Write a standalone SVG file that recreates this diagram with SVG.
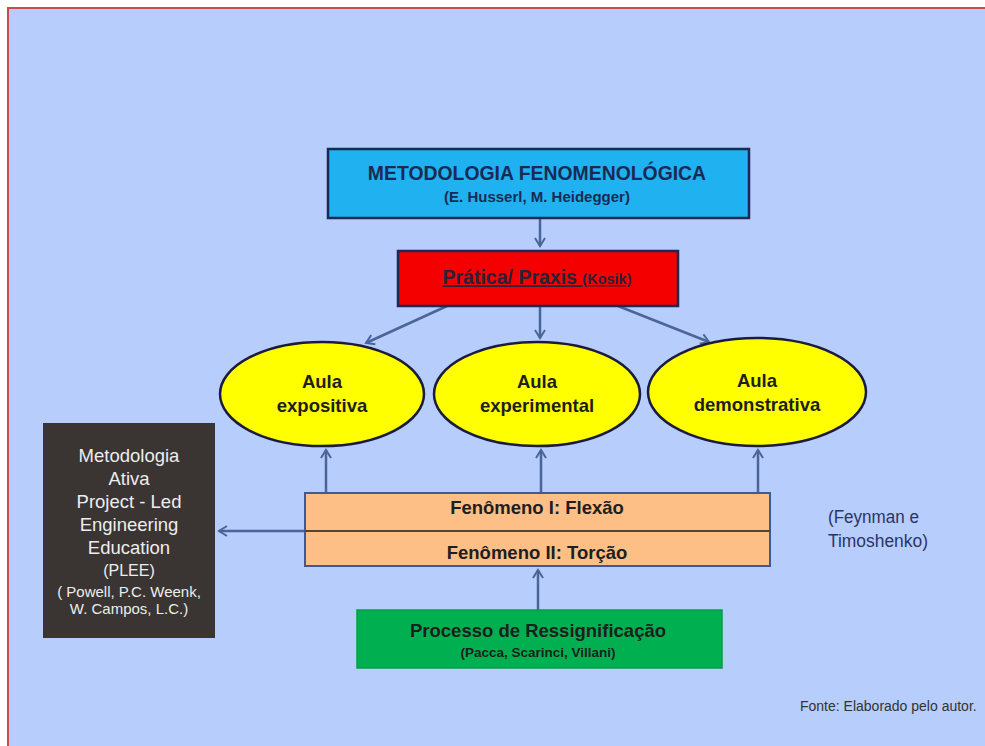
<svg xmlns="http://www.w3.org/2000/svg" width="985" height="746" viewBox="0 0 985 746">
<defs>
<style>
.b{font-family:"Liberation Sans",Arial,sans-serif;font-weight:bold;text-anchor:middle}
.r{font-family:"Liberation Sans",Arial,sans-serif;text-anchor:middle;fill:#EDEDED}
.con{stroke:#4A6699;stroke-width:2.5;fill:none;marker-end:url(#ah)}
</style>
<marker id="ah" viewBox="0 0 12 12" refX="10" refY="6" markerWidth="12" markerHeight="12" markerUnits="userSpaceOnUse" orient="auto">
<path d="M2,1 L10,6 L2,11" fill="none" stroke="#4A6699" stroke-width="2"/>
</marker>
</defs>
<rect x="0" y="0" width="985" height="746" fill="#FFFFFF"/>
<rect x="8" y="8" width="990" height="750" fill="#B7CDFC" stroke="#C0504D" stroke-width="2"/>

<g id="connectors">
<line class="con" x1="540" y1="219" x2="540" y2="246"/>
<line class="con" x1="447" y1="306" x2="366" y2="343"/>
<line class="con" x1="540" y1="306" x2="540" y2="338"/>
<line class="con" x1="618" y1="306" x2="709" y2="342"/>
<line class="con" x1="326" y1="493" x2="326" y2="450"/>
<line class="con" x1="541" y1="493" x2="541" y2="450"/>
<line class="con" x1="758" y1="493" x2="758" y2="450"/>
<line class="con" x1="305" y1="531" x2="219" y2="531"/>
<line class="con" x1="538" y1="610" x2="538" y2="570"/>
</g>

<g id="metodologia">
<rect x="328" y="149" width="421" height="69" fill="#1FB1F0" stroke="#1B2A55" stroke-width="2.5"/>
<text class="b" x="537" y="180" font-size="19.4" fill="#1B2A55">METODOLOGIA FENOMENOLÓGICA</text>
<text class="b" x="537" y="202" font-size="15" fill="#1B2A55">(E. Husserl, M. Heidegger)</text>
</g>

<g id="pratica">
<rect x="398" y="251" width="280" height="55" fill="#F40000" stroke="#1B2A55" stroke-width="2.5"/>
<text class="b" x="537" y="284" fill="#2A2238" text-decoration="underline"><tspan font-size="19.5">Prática/ Praxis </tspan><tspan font-size="14.5">(Kosik)</tspan></text>
</g>

<g id="aula-expositiva">
<ellipse cx="322" cy="394" rx="102" ry="52" fill="#FFFF00" stroke="#1B1B40" stroke-width="2.5"/>
<text class="b" x="322" y="388" font-size="18.5" fill="#1E1E1E">Aula</text>
<text class="b" x="322" y="412" font-size="18.5" fill="#1E1E1E">expositiva</text>
</g>

<g id="aula-experimental">
<ellipse cx="537" cy="394" rx="103" ry="52" fill="#FFFF00" stroke="#1B1B40" stroke-width="2.5"/>
<text class="b" x="537" y="388" font-size="18.5" fill="#1E1E1E">Aula</text>
<text class="b" x="537" y="412" font-size="18.5" fill="#1E1E1E">experimental</text>
</g>

<g id="aula-demonstrativa">
<ellipse cx="757" cy="392" rx="109" ry="54" fill="#FFFF00" stroke="#1B1B40" stroke-width="2.5"/>
<text class="b" x="757" y="387" font-size="18.5" fill="#1E1E1E">Aula</text>
<text class="b" x="757" y="411" font-size="18.5" fill="#1E1E1E">demonstrativa</text>
</g>

<g id="fenomeno">
<rect x="305" y="493" width="465" height="73" fill="#FDBF86" stroke="#3B5A96" stroke-width="2"/>
<line x1="305" y1="531" x2="770" y2="531" stroke="#5A4030" stroke-width="2"/>
<text class="b" x="537" y="514" font-size="18.5" fill="#1E1E1E">Fenômeno I: Flexão</text>
<text class="b" x="537" y="559" font-size="18.5" fill="#1E1E1E">Fenômeno II: Torção</text>
</g>

<g id="metodologia-ativa">
<rect x="43" y="423" width="172" height="215" fill="#3A3533"/>
<text class="r" x="129" y="462" font-size="18.5">Metodologia</text>
<text class="r" x="129" y="485" font-size="18.5">Ativa</text>
<text class="r" x="129" y="508" font-size="18.5">Project - Led</text>
<text class="r" x="129" y="531" font-size="18.5">Engineering</text>
<text class="r" x="129" y="554" font-size="18.5">Education</text>
<text class="r" x="129" y="576" font-size="16">(PLEE)</text>
<text class="r" x="129" y="597" font-size="15">( Powell, P.C. Weenk,</text>
<text class="r" x="129" y="614" font-size="15">W. Campos, L.C.)</text>
</g>

<g id="ressignificacao">
<rect x="357" y="610" width="365" height="58" fill="#00B050" stroke="#0E9A45" stroke-width="1.5"/>
<text class="b" x="538" y="637" font-size="18.5" fill="#1E1E1E">Processo de Ressignificação</text>
<text class="b" x="538" y="657" font-size="13.5" fill="#1E1E1E">(Pacca, Scarinci, Villani)</text>
</g>

<g id="notas">
<text x="828" y="523" font-family="Liberation Sans,Arial,sans-serif" font-size="17.5" fill="#2A3566" textLength="91" lengthAdjust="spacingAndGlyphs">(Feynman e</text>
<text x="828" y="547" font-family="Liberation Sans,Arial,sans-serif" font-size="17.5" fill="#2A3566" textLength="100" lengthAdjust="spacingAndGlyphs">Timoshenko)</text>
<text x="800" y="711" font-family="Liberation Sans,Arial,sans-serif" font-size="14" fill="#333333">Fonte: Elaborado pelo autor.</text>
</g>
</svg>
